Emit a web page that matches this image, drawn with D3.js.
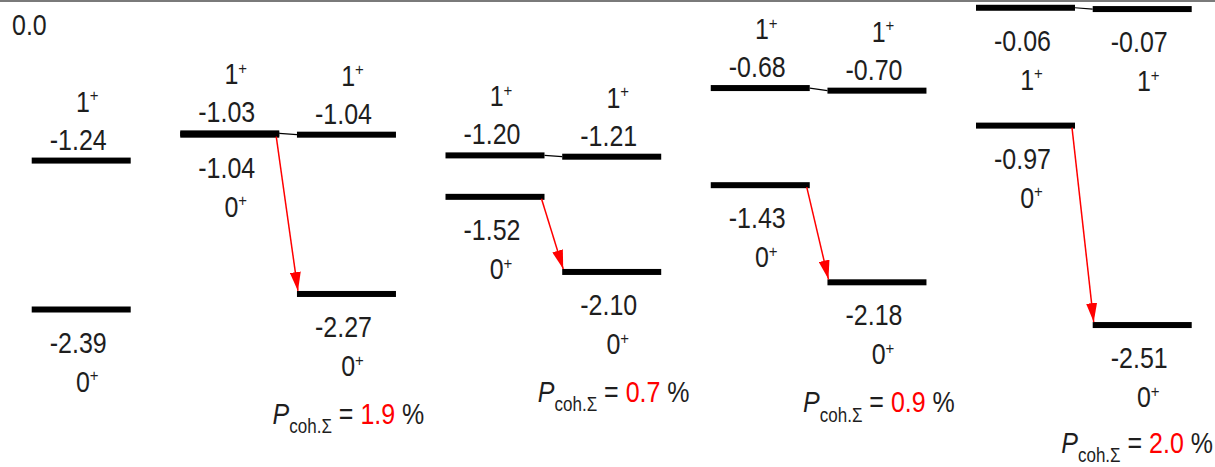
<!DOCTYPE html>
<html><head><meta charset="utf-8">
<script src="https://cdn.jsdelivr.net/npm/d3@7"></script>
<style>html,body{margin:0;padding:0;background:#fff;overflow:hidden;} svg{display:block;}</style>
</head><body><svg id="chart" width="1215" height="467"></svg>
<script>
// ---- data ----
const groups = [0, 1, 2, 3, 4];
const onePlusLeft   = [null, -1.03, -1.20, -0.68, -0.06];
const onePlusRight  = [-1.24, -1.04, -1.21, -0.70, -0.07];
const zeroPlusLeft  = [null, -1.04, -1.52, -1.43, -0.97];
const zeroPlusRight = [-2.39, -2.27, -2.10, -2.18, -2.51];
const pcohPercent   = [null, 1.9, 0.7, 0.9, 2.0];
const spinOne = "1", spinZero = "0", parity = "+";
const referenceLabel = "0.0";
const pSymbol = "P", pSubscript = "coh.\u03A3", percentSign = "%";

// ---- layout ----
const W = 1215, H = 467;
const barW = 99, barH = 6, rightShift = 0.44;
const FONT = "'Liberation Sans', Arial, Helvetica, sans-serif";
const TEXT = "#1e1e1e", RED = "#ff0000";
const STRETCH = 1.15;

const svg = d3.select("#chart");
const x = d3.scaleLinear().domain([0, 4]).range([-85, 976]);
const y = d3.scaleLinear().domain([0, -1]).range([0, 129.5]);

// build levels
const levels = [];
groups.forEach(g => {
  if (onePlusLeft[g] != null) levels.push({g, side: 0, spin: spinOne, v: onePlusLeft[g]});
  if (zeroPlusLeft[g] != null) levels.push({g, side: 0, spin: spinZero, v: zeroPlusLeft[g]});
  levels.push({g, side: 1, spin: spinOne, v: onePlusRight[g]});
  levels.push({g, side: 1, spin: spinZero, v: zeroPlusRight[g]});
});
const colX = d => x(d.g + d.side * rightShift);

function addText(parent, tx, ty, anchor) {
  return parent.append("text")
    .attr("transform", `translate(${tx},${ty}) scale(1,${STRETCH})`)
    .attr("x", 0).attr("y", 0)
    .attr("text-anchor", anchor)
    .attr("font-family", FONT).attr("font-size", 25).attr("fill", TEXT);
}

// reference (0.0) line
svg.append("line")
  .attr("x1", 0).attr("x2", W)
  .attr("y1", y(0) + 1).attr("y2", y(0) + 1)
  .attr("stroke", "#7a7a7a").attr("stroke-width", 2);
addText(svg, 12, y(0) + 35, "start").text(referenceLabel);

// arrow marker
svg.append("defs").append("marker")
  .attr("id", "arrowhead")
  .attr("viewBox", "0 0 19 11")
  .attr("refX", 19).attr("refY", 5.5)
  .attr("markerWidth", 19).attr("markerHeight", 11)
  .attr("markerUnits", "userSpaceOnUse")
  .attr("orient", "auto")
  .append("path").attr("d", "M0,0 L19,5.5 L0,11 Z").attr("fill", RED);

// connectors between 1+ levels
groups.filter(g => onePlusLeft[g] != null).forEach(g => {
  svg.append("line")
    .attr("x1", x(g) + barW).attr("y1", y(onePlusLeft[g]))
    .attr("x2", x(g + rightShift)).attr("y2", y(onePlusRight[g]))
    .attr("stroke", "#000").attr("stroke-width", 1.2);
});

// bars
svg.append("g").selectAll("rect").data(levels).join("rect")
  .attr("x", d => colX(d))
  .attr("y", d => y(d.v) - barH / 2)
  .attr("width", barW)
  .attr("height", barH)
  .attr("fill", "#000");

// arrows 0+ -> 0+
groups.filter(g => zeroPlusLeft[g] != null).forEach(g => {
  svg.append("line")
    .attr("x1", x(g) + barW - 3).attr("y1", y(zeroPlusLeft[g]) + 2)
    .attr("x2", x(g + rightShift) + 1).attr("y2", y(zeroPlusRight[g]) - 3)
    .attr("stroke", RED).attr("stroke-width", 1.5)
    .attr("marker-end", "url(#arrowhead)");
});

// labels
const lab = svg.append("g");
levels.forEach(d => {
  const cx = colX(d) + barW / 2;
  const yy = y(d.v);
  const above = d.spin === spinOne && yy - 50 >= 0;
  const vBase = above ? yy - 11 : yy + 43;
  const sBase = above ? yy - 49 : yy + 82;
  addText(lab, cx - 3, vBase, "middle").text(d.v.toFixed(2));
  const t = addText(lab, cx + 6, sBase, "middle");
  t.append("tspan").text(d.spin);
  t.append("tspan").attr("font-size", 15).attr("dy", -9).text(parity);
});

// P_coh labels (kept inside the picture)
groups.filter(g => pcohPercent[g] != null).forEach(g => {
  let cx = x(g + rightShift) + barW / 2 + 2;
  let base = y(zeroPlusRight[g]) + 130;
  const t = addText(lab, cx, base, "middle");
  t.append("tspan").attr("font-style", "italic").text(pSymbol);
  t.append("tspan").attr("font-size", 17).attr("dy", 8).text(pSubscript);
  t.append("tspan").attr("dy", -8).text(" = ");
  t.append("tspan").attr("fill", RED).text(pcohPercent[g].toFixed(1));
  t.append("tspan").text(" " + percentSign);
  const bb = t.node().getBBox();
  const right = cx + bb.x + bb.width;
  const bottom = base + (bb.y + bb.height) * STRETCH;
  if (right > W - 2) cx -= right - (W - 2);
  if (bottom > H - 1) base -= bottom - (H - 1);
  t.attr("transform", `translate(${cx},${base}) scale(1,${STRETCH})`);
});
</script>
</body></html>
